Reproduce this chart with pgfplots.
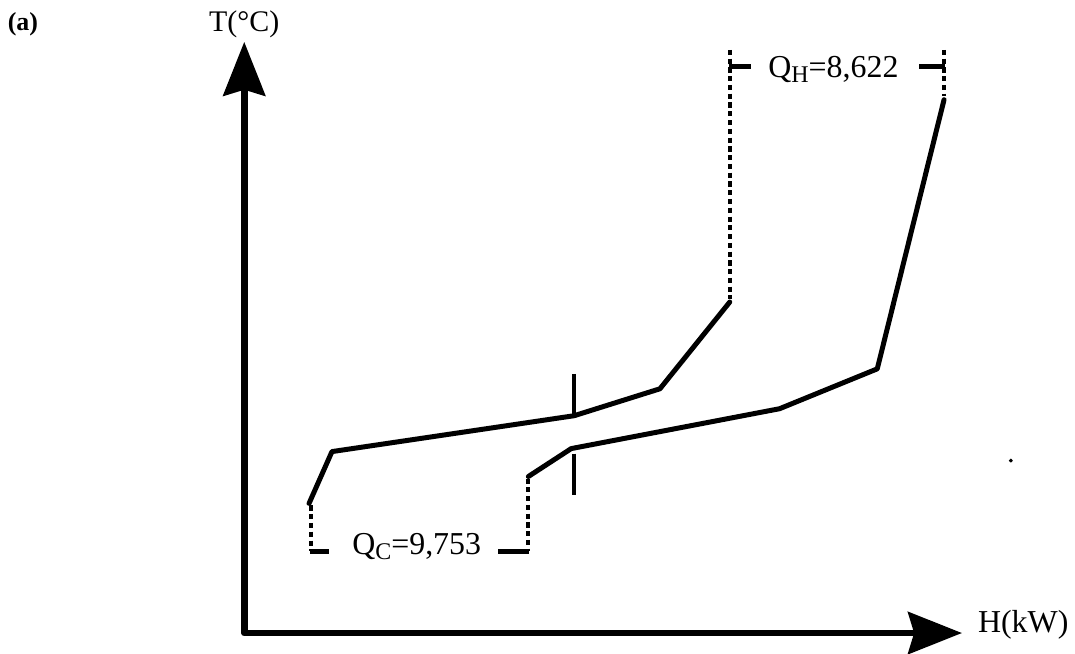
\documentclass[border=0pt]{standalone}
\usepackage{fontspec}
\setmainfont{Liberation Serif}
\usepackage{pgfplots}
\pgfplotsset{compat=1.18}
\usetikzlibrary{arrows.meta}
\begin{document}
\begin{tikzpicture}
\begin{axis}[
  scale only axis, width=537.5pt, height=328pt,
  xmin=0, xmax=1075, ymin=0, ymax=656, y dir=reverse,
  hide axis, clip=false,
  every axis plot/.append style={black, line join=round, line cap=round},
]
\path (axis cs:0,0) rectangle (axis cs:1075,656);
% axes
\draw[line width=3.4pt, line join=round,
  {Stealth[length=27pt,width=21pt,inset=3pt]}-{Stealth[length=27pt,width=21pt,inset=3pt]}]
  (axis cs:245,42) -- (axis cs:245,635) -- (axis cs:965,635);
% composite curves
\addplot[line width=2.5pt] coordinates {(310,505) (333,453) (576,417) (662,390) (732,303)};
\addplot[line width=2.5pt] coordinates {(530,478) (573,450) (782,410) (880,370) (947,100)};
% pinch ticks
\addplot[line width=1.8pt, line cap=butt] coordinates {(576,375) (576,417)};
\addplot[line width=1.8pt, line cap=butt] coordinates {(576,455) (576,497)};
% dotted brackets
\addplot[line width=2.1pt, line cap=butt, dash pattern=on 2.6pt off 1.8pt] coordinates {(312,507) (312,553)};
\addplot[line width=2.1pt, line cap=butt, dash pattern=on 2.6pt off 1.8pt] coordinates {(530,480) (530,553)};
\addplot[line width=2.1pt, line cap=butt, dash pattern=on 2.6pt off 1.8pt] coordinates {(732,50) (732,300)};
\addplot[line width=2.1pt, line cap=butt, dash pattern=on 2.6pt off 1.8pt] coordinates {(947,50) (947,96)};
\addplot[line width=2.4pt, line cap=butt] coordinates {(311,553) (330,553)};
\addplot[line width=2.4pt, line cap=butt] coordinates {(500,553) (531,553)};
\addplot[line width=2.4pt, line cap=butt] coordinates {(731,67) (753,67)};
\addplot[line width=2.4pt, line cap=butt] coordinates {(922,67) (948,67)};
\addplot[only marks, mark=*, mark size=0.8pt] coordinates {(1014,462)};
% labels
\node[font=\fontsize{13}{15}\selectfont\bfseries] at (axis cs:23,24) {(a)};
\node[font=\fontsize{15}{18}\selectfont] at (axis cs:245,24) {T(°C)};
\node[font=\fontsize{16}{18}\selectfont, anchor=west] at (axis cs:974,627) {H(kW)};
\node[font=\fontsize{16}{18}\selectfont] at (axis cs:418,548) {Q\raisebox{-0.35ex}{\fontsize{12}{12}\selectfont C}=9,753};
\node[font=\fontsize{16}{18}\selectfont] at (axis cs:836,70) {Q\raisebox{-0.35ex}{\fontsize{12}{12}\selectfont H}=8,622};
\end{axis}
\end{tikzpicture}
\end{document}
